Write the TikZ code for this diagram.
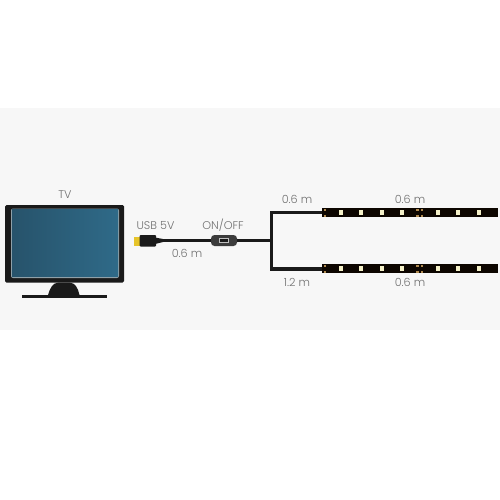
\documentclass[tikz,border=0pt]{standalone}
\usepackage{fontspec}
\setmainfont{Poppins Light}
\usetikzlibrary{shadings}
\definecolor{band}{HTML}{F7F7F7}
\definecolor{ink}{HTML}{1A1A1A}
\definecolor{labelgrey}{HTML}{707070}
\definecolor{screenL}{HTML}{27536B}
\definecolor{screenR}{HTML}{2F6A88}
\definecolor{screenedge}{HTML}{8FA0A8}
\definecolor{led}{HTML}{F4F0C8}
\definecolor{pad}{HTML}{B08A50}
\definecolor{plug}{HTML}{E6C42A}
\tikzset{
  x=1pt,y=-1pt,
  lbl/.style={text=labelgrey,font=\fontsize{11.2pt}{13pt}\selectfont,inner sep=0pt},
  cable/.style={draw=ink,line width=3.3pt},
  stripbody/.style={fill=black!95!orange,draw=none},
}
% LED strip: body, solder pads and chips along one row
\newcommand{\ledstrip}[1]{%
  \fill[stripbody] (322,#1-4.6) rectangle (498,#1+4.6);
  \foreach \px in {340.7,361,382,402,438,458,479}
    \fill[led] (\px-2,#1-2.4) rectangle (\px+2,#1+2.4);
  \foreach \py in {-3,3}{
    \fill[pad] (323.5,#1+\py-0.9) rectangle (325.5,#1+\py+0.9);
    \fill[pad] (416,#1+\py-0.9) rectangle (418.5,#1+\py+0.9);
    \fill[pad] (420.5,#1+\py-0.9) rectangle (423,#1+\py+0.9);
  }
}
\begin{document}
\begin{tikzpicture}
\useasboundingbox (0,0) rectangle (500,500);
\fill[white] (0,0) rectangle (500,500);
\fill[band] (0,108) rectangle (500,330);

% television
\fill[ink] (5,205) [rounded corners=1.5pt] rectangle (124,282.7);
\fill[screenedge] (11,208.5) [rounded corners=2pt] rectangle (119,278);
\shade[left color=screenL,right color=screenR] (12,209.5) rectangle (118,276.8);
\fill[ink] (48,295) .. controls (50,288) and (53,282.7) .. (58,282.7)
  -- (70,282.7) .. controls (75,282.7) and (78,288) .. (79.5,295) -- cycle;
\fill[ink] (22,295) -- (107,295) -- (107,298) -- (22,298) -- cycle;
\node[lbl] (tv) at (65,194.5) {TV};

% USB plug, cable and switch
\coordinate (usbend) at (156,240.5);
\coordinate (junction) at (271,240.5);
\fill[plug] (134,236.5) rectangle (140,246);
\fill[ink] (139.5,235) [rounded corners=1pt] rectangle (156,246.5);
\fill[ink] (155,237.5) -- (163,239) -- (163,242) -- (155,244) -- cycle;
\node[minimum width=26pt,minimum height=11pt,inner sep=0pt,fill=ink!85!white,rounded corners=3.5pt] (switch) at (224,240.5) {};
\fill[white!75!black] (219,238) rectangle (229,243);
\fill[ink] (220,239) rectangle (228,242);
\draw[cable] (usbend) -- (switch.west);
\draw[cable] (switch.east) -- (junction);

% branches to the strips
\coordinate (topend) at (323,212.3);
\coordinate (botend) at (323,269);
\draw[cable,line width=3.6pt] (topend) -- (271.5,212.3) -- (271.5,269) -- (botend);
\ledstrip{212.6}
\ledstrip{268.8}

% labels
\node[lbl] (usb) at (155.5,225.5) {USB 5V};
\node[lbl] (onoff) at (223,225.5) {ON/OFF};
\node[lbl] (l1) at (187,253) {0.6 m};
\node[lbl] (l2) at (297,199.5) {0.6 m};
\node[lbl] (l3) at (297,282) {1.2 m};
\node[lbl] (l4) at (410,199.5) {0.6 m};
\node[lbl] (l5) at (410,282) {0.6 m};
\end{tikzpicture}
\end{document}
